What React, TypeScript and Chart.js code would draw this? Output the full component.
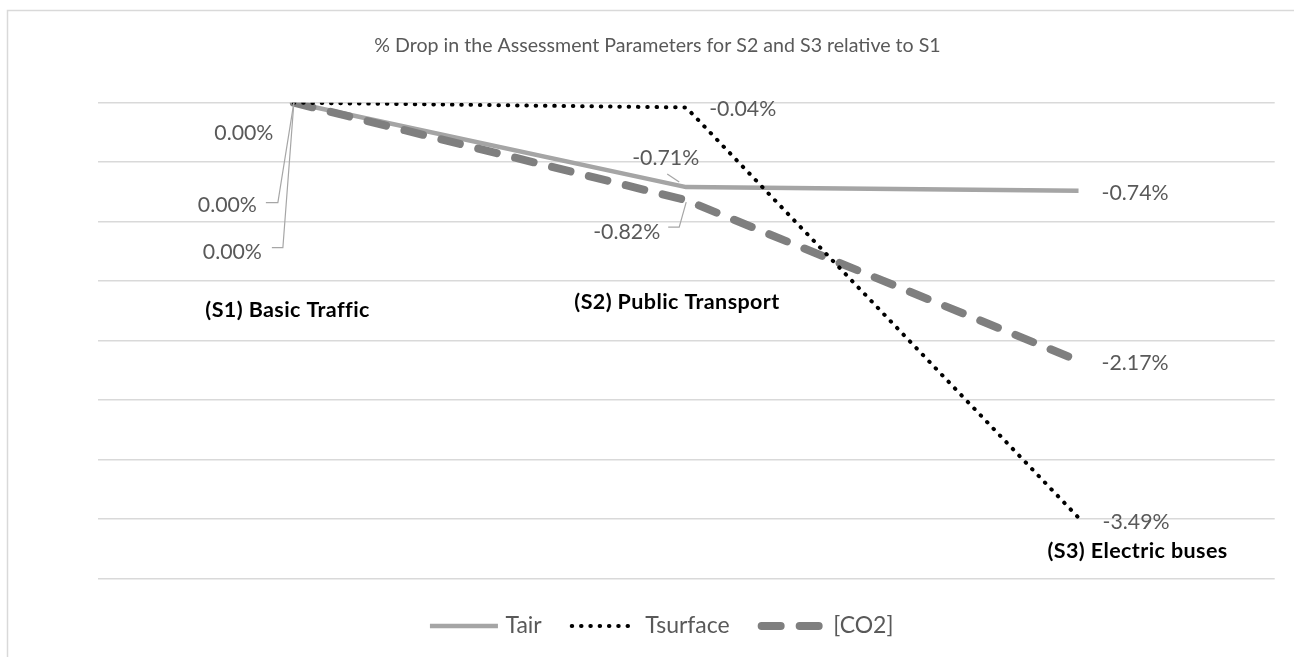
import { useEffect, useRef } from 'react';
import { Chart, registerables } from 'chart.js';

Chart.register(...registerables);

const categories = ['(S1) Basic Traffic', '(S2) Public Transport', '(S3) Electric buses'];
const seriesNames = ['Tair', 'Tsurface', '[CO2]'];
const tair = [0, -0.71, -0.74];
const tsurface = [0, -0.04, -3.49];
const co2 = [0, -0.82, -2.17];
const yMin = -4;
const yMax = 0;
const yStep = 0.5;
const titleText = '% Drop in the Assessment Parameters for S2 and S3 relative to S1';

const FONT = 'Lato';
const LABEL_COLOR = '#595959';

// label placement relative to each point (pixels) – per dataset, per category
const labelPlacement: any[][] = [
  [
    { dx: -50, dy: 30 },
    { dx: -20.5, dy: -29, leader: [[-19, -13], [-7, -5]] },
    { dx: 56.5, dy: 2 },
  ],
  [
    { dx: -66.5, dy: 102, leader: [[-28, 100], [-16, 100], [0, 0]] },
    { dx: 56.5, dy: 1.5 },
    { dx: 57.5, dy: 4 },
  ],
  [
    { dx: -61.5, dy: 149, leader: [[-22, 145], [-11, 145], [0, 0]] },
    { dx: -59.5, dy: 32, leader: [[-18, 27], [-7, 27], [0, 2]] },
    { dx: 56.5, dy: 2 },
  ],
];
// category name labels: offset from category x and from the top of the plot
const categoryLabelOffsets = [
  { dx: -6.3, dy: 207.5 },
  { dx: -9.2, dy: 199 },
  { dx: 59, dy: 448 },
];

const customPlugin = {
  id: 'custom',
  beforeDraw(chart: any) {
    const ctx = chart.ctx;
    ctx.save();
    ctx.strokeStyle = '#d9d9d9';
    ctx.lineWidth = 1.5;
    ctx.beginPath();
    ctx.moveTo(7.5, chart.height);
    ctx.lineTo(7.5, 10.5);
    ctx.lineTo(chart.width, 10.5);
    ctx.stroke();
    ctx.restore();
  },
  afterDatasetsDraw(chart: any) {
    const ctx = chart.ctx;
    const xs = chart.scales.x;
    const ys = chart.scales.y;
    ctx.save();
    chart.data.datasets.forEach((ds: any, di: number) => {
      const meta = chart.getDatasetMeta(di);
      meta.data.forEach((pt: any, i: number) => {
        const p = labelPlacement[di][i];
        if (p.leader) {
          ctx.strokeStyle = '#a6a6a6';
          ctx.lineWidth = 1.2;
          ctx.setLineDash([]);
          ctx.beginPath();
          p.leader.forEach((q: number[], k: number) => {
            const x = pt.x + q[0];
            const y = pt.y + q[1];
            if (k === 0) ctx.moveTo(x, y);
            else ctx.lineTo(x, y);
          });
          ctx.stroke();
        }
        ctx.fillStyle = LABEL_COLOR;
        ctx.font = `21.3px ${FONT}`;
        ctx.textAlign = 'center';
        ctx.textBaseline = 'middle';
        ctx.fillText(ds.data[i].toFixed(2) + '%', pt.x + p.dx, pt.y + p.dy);
      });
    });
    const top = ys.getPixelForValue(yMax);
    categories.forEach((c, i) => {
      const o = categoryLabelOffsets[i];
      ctx.fillStyle = '#000000';
      ctx.font = `bold 21.5px ${FONT}`;
      (ctx as any).letterSpacing = '0.4px';
      ctx.textAlign = 'center';
      ctx.textBaseline = 'middle';
      ctx.fillText(c, xs.getPixelForValue(i) + o.dx, top + o.dy);
      (ctx as any).letterSpacing = '0px';
    });
    ctx.restore();
  },
  afterDraw(chart: any) {
    const ctx = chart.ctx;
    ctx.save();
    // title
    ctx.fillStyle = LABEL_COLOR;
    ctx.font = `19.6px ${FONT}`;
    ctx.textAlign = 'center';
    ctx.textBaseline = 'middle';
    ctx.fillText(titleText, 657.5, 46);
    // legend
    ctx.font = `23px ${FONT}`;
    const sampleW = 68;
    const gapSampleText = 7.5;
    const gapItems = 28;
    const widths = seriesNames.map((n) => ctx.measureText(n).width);
    const total = widths.reduce((a, w) => a + sampleW + gapSampleText + w, 0) + gapItems * (seriesNames.length - 1);
    let x = 661.7 - total / 2;
    const y = 626;
    chart.data.datasets.forEach((ds: any, di: number) => {
      ctx.save();
      ctx.strokeStyle = ds.borderColor;
      ctx.lineWidth = ds.borderWidth;
      ctx.lineCap = ds.borderCapStyle;
      ctx.setLineDash(ds.borderDash || []);
      const inset = ds.borderCapStyle === 'round' ? ds.borderWidth / 2 : 0;
      ctx.beginPath();
      ctx.moveTo(x + inset, y);
      ctx.lineTo(x + sampleW - inset, y);
      ctx.stroke();
      ctx.restore();
      ctx.fillStyle = LABEL_COLOR;
      ctx.textAlign = 'left';
      ctx.textBaseline = 'middle';
      ctx.fillText(seriesNames[di], x + sampleW + gapSampleText, y);
      x += sampleW + gapSampleText + widths[di] + gapItems;
    });
    ctx.restore();
  },
};

export default function App() {
  const ref = useRef<HTMLCanvasElement>(null);
  useEffect(() => {
    const chart = new Chart(ref.current as HTMLCanvasElement, {
      type: 'line',
      data: {
        labels: categories,
        datasets: [
          {
            label: seriesNames[0],
            data: tair,
            borderColor: '#a5a5a5',
            borderWidth: 4.5,
            borderCapStyle: 'butt',
            borderJoinStyle: 'round',
            pointRadius: 0,
            tension: 0,
            order: 2,
          },
          {
            label: seriesNames[1],
            data: tsurface,
            borderColor: '#000000',
            borderWidth: 4,
            borderDash: [0.5, 8.8],
            borderCapStyle: 'round',
            borderJoinStyle: 'round',
            pointRadius: 0,
            tension: 0,
            order: 0,
          },
          {
            label: seriesNames[2],
            data: co2,
            borderColor: '#7f7f7f',
            borderWidth: 8,
            borderDash: [19, 19],
            borderCapStyle: 'round',
            borderJoinStyle: 'round',
            pointRadius: 0,
            tension: 0,
            order: 1,
          },
        ] as any,
      },
      options: {
        animation: false,
        responsive: true,
        maintainAspectRatio: false,
        layout: { padding: { left: 97.7, right: 19.3, top: 102.7, bottom: 78.7 } },
        plugins: {
          legend: { display: false },
          title: { display: false },
          tooltip: { enabled: false },
        },
        scales: {
          x: { display: false, offset: true },
          y: {
            min: yMin,
            max: yMax,
            ticks: { stepSize: yStep, display: false },
            border: { display: false },
            grid: { color: '#d9d9d9', lineWidth: 1.6, drawTicks: false },
          },
        },
      },
      plugins: [customPlugin],
    });
    return () => chart.destroy();
  }, []);
  return (
    <div style={{ position: 'fixed', left: 0, top: 0, width: 1294, height: 657, background: '#fff' }}>
      <canvas ref={ref} />
    </div>
  );
}
